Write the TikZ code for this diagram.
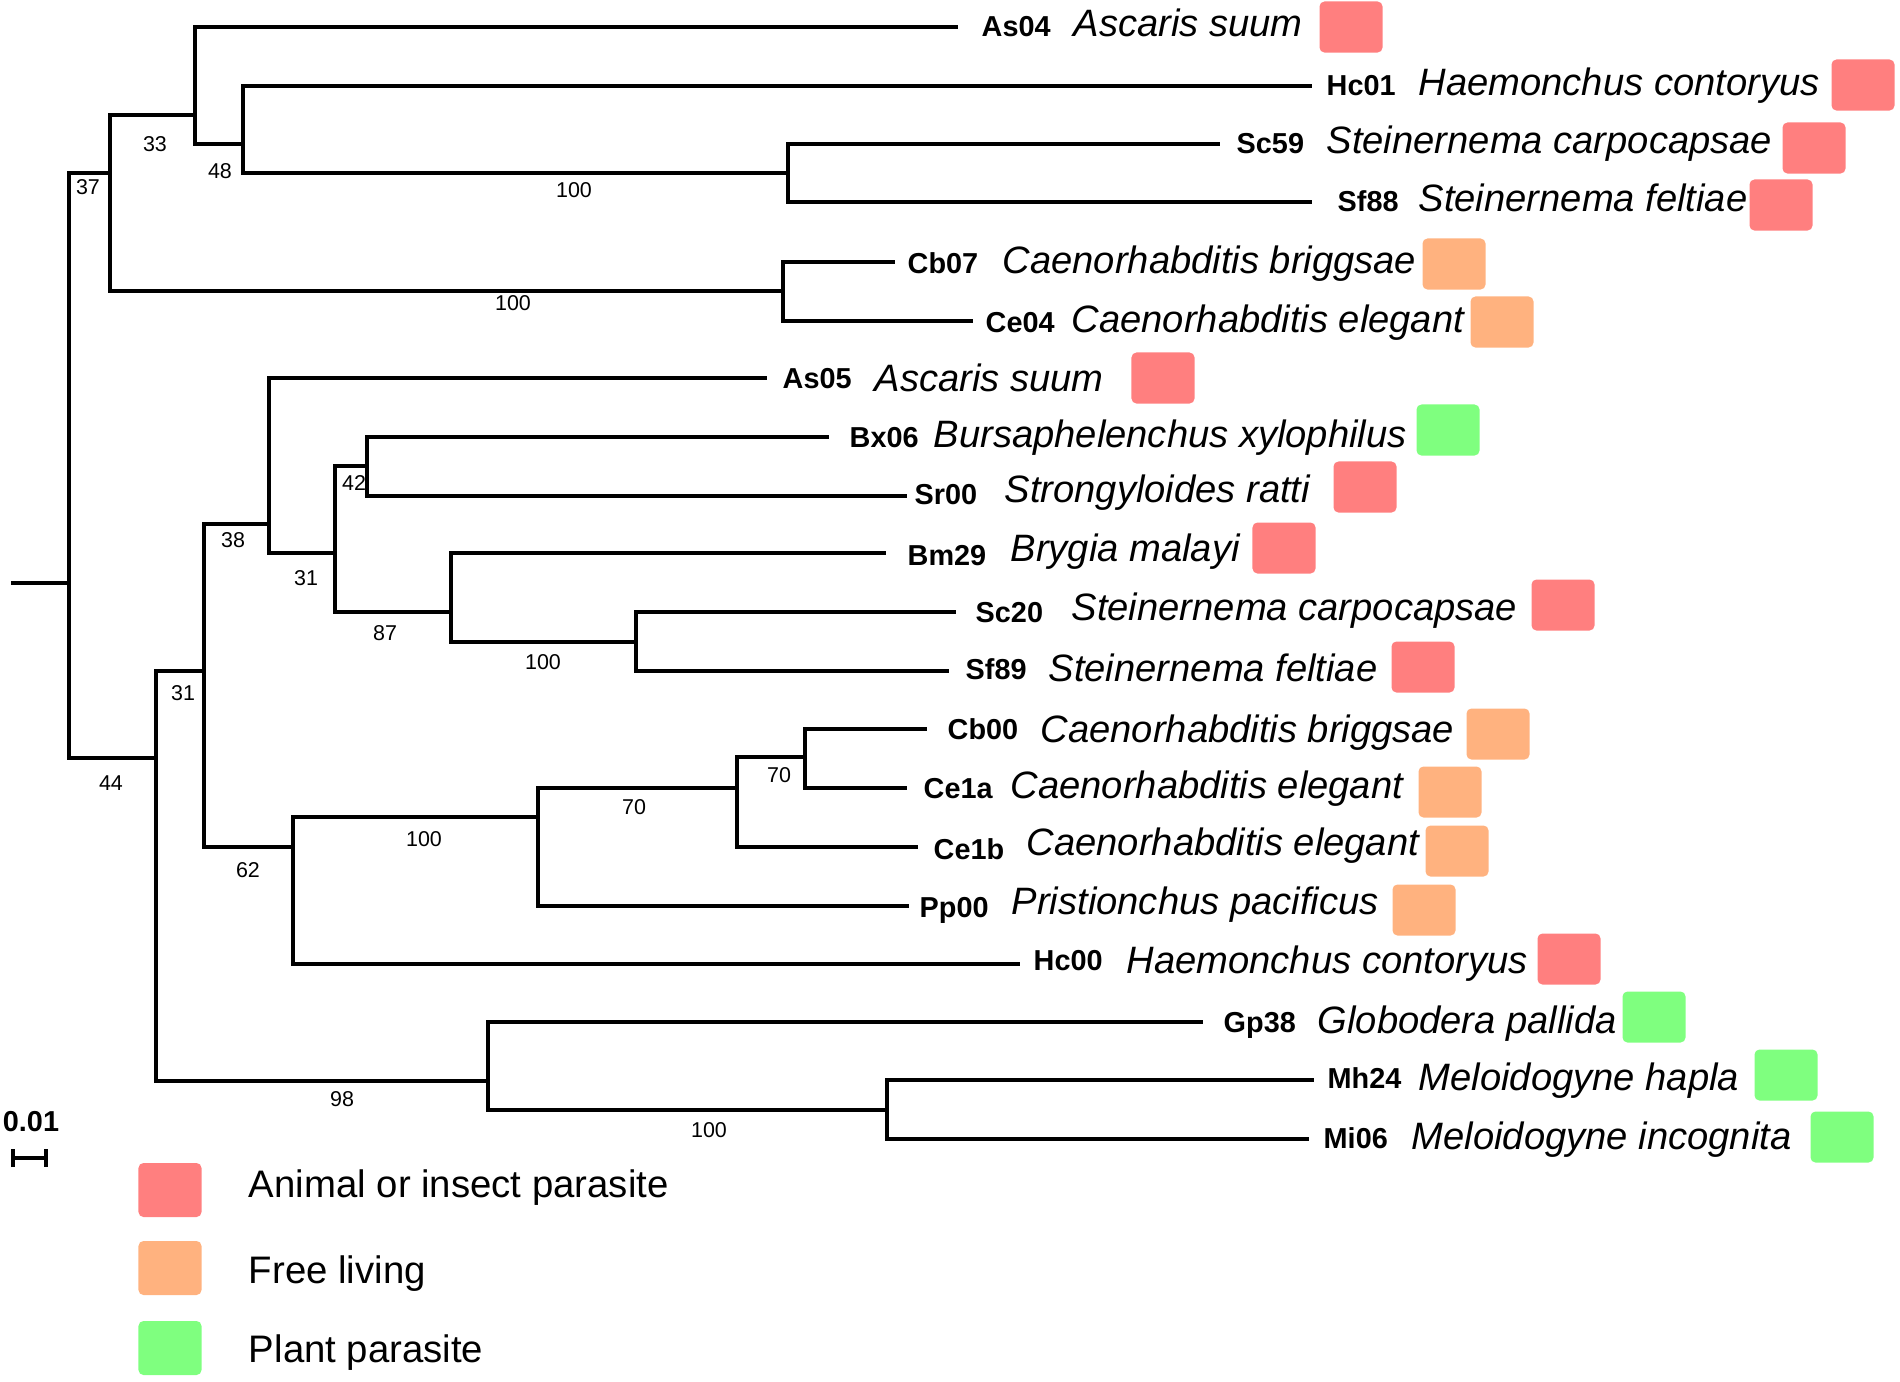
\documentclass[tikz,border=0pt]{standalone}
\usepackage{fontspec}
\setmainfont{Liberation Sans}
\usetikzlibrary{positioning,arrows.meta}
\definecolor{animalred}{RGB}{255,127,127}
\definecolor{freeorange}{RGB}{255,178,127}
\definecolor{plantgreen}{RGB}{127,255,127}
\newcommand{\taxfont}{\fontsize{10.85pt}{12pt}\selectfont\itshape}
\newcommand{\idfont}{\fontsize{8.2pt}{10pt}\selectfont\bfseries}
\newcommand{\bsfont}{\fontsize{6.1pt}{7pt}\selectfont}
\newcommand{\legfont}{\fontsize{10.9pt}{12pt}\selectfont}
\tikzset{
    tree/.style={
        line width=1.15pt
    },
    taxid/.style={
        font=\idfont,
        anchor=base west,
        inner sep=0pt
    },
    taxname/.style={
        font=\taxfont,
        anchor=base west,
        inner sep=0pt
    },
    bootval/.style={
        font=\bsfont,
        inner sep=0pt
    },
    hostbox/.style={
        rectangle,
        rounded corners=0.05cm,
        minimum width=0.63cm,
        minimum height=0.51cm,
        inner sep=0pt
    },
    animal/.style={hostbox, fill=animalred},
    freeliv/.style={hostbox, fill=freeorange},
    plant/.style={hostbox, fill=plantgreen},
    legtext/.style={font=\legfont, inner sep=0pt}
}

\begin{document}
\begin{tikzpicture}[x=0.01cm, y=-0.01cm]
    \useasboundingbox (0,0) rectangle (1900,1381);
    % inner nodes of the tree
    \coordinate (stub) at (11,583);
    \coordinate (r) at (69,583);
    \coordinate (nA) at (110,173);
    \coordinate (nC) at (195,115);
    \coordinate (nE) at (243,144);
    \coordinate (nF) at (788,173);
    \coordinate (nD) at (783,291);
    \coordinate (nB) at (156,758);
    \coordinate (nG) at (204,671);
    \coordinate (nI) at (269,524);
    \coordinate (nK) at (335,553);
    \coordinate (nL) at (367,466);
    \coordinate (nM) at (451,612);
    \coordinate (nN) at (636,642);
    \coordinate (nJ) at (293,847);
    \coordinate (nO) at (538,817);
    \coordinate (nP) at (737,788);
    \coordinate (nQ) at (805,757);
    \coordinate (nH) at (488,1081);
    \coordinate (nR) at (887,1110);

    % leaves
    \coordinate (As04) at (958,27);
    \node (As04c) [taxid] at (981,36) {As04};
    \node (As04s) [taxname] at (1073,36) {Ascaris suum};
    \node (As04b) [animal] at (1351,27) {};

    \coordinate (Hc01) at (1312,86);
    \node (Hc01c) [taxid] at (1326,95) {Hc01};
    \node (Hc01s) [taxname] at (1418,95) {Haemonchus contoryus};
    \node (Hc01b) [animal] at (1863,85) {};

    \coordinate (Sc59) at (1220,144);
    \node (Sc59c) [taxid] at (1236,153) {Sc59};
    \node (Sc59s) [taxname] at (1326,153) {Steinernema carpocapsae};
    \node (Sc59b) [animal] at (1814,148) {};

    \coordinate (Sf88) at (1312,202);
    \node (Sf88c) [taxid] at (1337,211) {Sf88};
    \node (Sf88s) [taxname] at (1418,211) {Steinernema feltiae};
    \node (Sf88b) [animal] at (1781,205) {};

    \coordinate (Cb07) at (895,262);
    \node (Cb07c) [taxid] at (907,273) {Cb07};
    \node (Cb07s) [taxname] at (1002,273) {Caenorhabditis briggsae};
    \node (Cb07b) [freeliv] at (1454,264) {};

    \coordinate (Ce04) at (973,321);
    \node (Ce04c) [taxid] at (985,332) {Ce04};
    \node (Ce04s) [taxname] at (1071,332) {Caenorhabditis elegant};
    \node (Ce04b) [freeliv] at (1502,322) {};

    \coordinate (As05) at (767,378);
    \node (As05c) [taxid] at (782,388) {As05};
    \node (As05s) [taxname] at (874,391) {Ascaris suum};
    \node (As05b) [animal] at (1163,378) {};

    \coordinate (Bx06) at (829,437);
    \node (Bx06c) [taxid] at (849,447) {Bx06};
    \node (Bx06s) [taxname] at (933,447) {Bursaphelenchus xylophilus};
    \node (Bx06b) [plant] at (1448,430) {};

    \coordinate (Sr00) at (907,496);
    \node (Sr00c) [taxid] at (914,504) {Sr00};
    \node (Sr00s) [taxname] at (1004,502) {Strongyloides ratti};
    \node (Sr00b) [animal] at (1365,487) {};

    \coordinate (Bm29) at (886,553);
    \node (Bm29c) [taxid] at (907,565) {Bm29};
    \node (Bm29s) [taxname] at (1010,561) {Brygia malayi};
    \node (Bm29b) [animal] at (1284,548) {};

    \coordinate (Sc20) at (956,612);
    \node (Sc20c) [taxid] at (975,622) {Sc20};
    \node (Sc20s) [taxname] at (1071,620) {Steinernema carpocapsae};
    \node (Sc20b) [animal] at (1563,605) {};

    \coordinate (Sf89) at (949,671);
    \node (Sf89c) [taxid] at (965,679) {Sf89};
    \node (Sf89s) [taxname] at (1048,681) {Steinernema feltiae};
    \node (Sf89b) [animal] at (1423,667) {};

    \coordinate (Cb00) at (927,729);
    \node (Cb00c) [taxid] at (947,739) {Cb00};
    \node (Cb00s) [taxname] at (1040,742) {Caenorhabditis briggsae};
    \node (Cb00b) [freeliv] at (1498,734) {};

    \coordinate (Ce1a) at (907,788);
    \node (Ce1ac) [taxid] at (923,798) {Ce1a};
    \node (Ce1as) [taxname] at (1010,798) {Caenorhabditis elegant};
    \node (Ce1ab) [freeliv] at (1450,792) {};

    \coordinate (Ce1b) at (918,847);
    \node (Ce1bc) [taxid] at (933,859) {Ce1b};
    \node (Ce1bs) [taxname] at (1026,855) {Caenorhabditis elegant};
    \node (Ce1bb) [freeliv] at (1457,851) {};

    \coordinate (Pp00) at (909,906);
    \node (Pp00c) [taxid] at (919,917) {Pp00};
    \node (Pp00s) [taxname] at (1011,914) {Pristionchus pacificus};
    \node (Pp00b) [freeliv] at (1424,910) {};

    \coordinate (Hc00) at (1020,964);
    \node (Hc00c) [taxid] at (1033,970) {Hc00};
    \node (Hc00s) [taxname] at (1126,973) {Haemonchus contoryus};
    \node (Hc00b) [animal] at (1569,959) {};

    \coordinate (Gp38) at (1203,1022);
    \node (Gp38c) [taxid] at (1223,1032) {Gp38};
    \node (Gp38s) [taxname] at (1317,1033) {Globodera pallida};
    \node (Gp38b) [plant] at (1654,1017) {};

    \coordinate (Mh24) at (1314,1080);
    \node (Mh24c) [taxid] at (1327,1088) {Mh24};
    \node (Mh24s) [taxname] at (1418,1090) {Meloidogyne hapla};
    \node (Mh24b) [plant] at (1786,1075) {};

    \coordinate (Mi06) at (1309,1139);
    \node (Mi06c) [taxid] at (1323,1148) {Mi06};
    \node (Mi06s) [taxname] at (1411,1149) {Meloidogyne incognita};
    \node (Mi06b) [plant] at (1842,1137) {};

    % branches
    \draw [tree] (stub) -- (r);
    \draw [tree] (r) |- (nA);
    \draw [tree] (r) |- (nB);
    \draw [tree] (nA) |- (nC);
    \draw [tree] (nA) |- (nD);
    \draw [tree] (nC) |- (As04);
    \draw [tree] (nC) |- (nE);
    \draw [tree] (nE) |- (Hc01);
    \draw [tree] (nE) |- (nF);
    \draw [tree] (nF) |- (Sc59);
    \draw [tree] (nF) |- (Sf88);
    \draw [tree] (nD) |- (Cb07);
    \draw [tree] (nD) |- (Ce04);
    \draw [tree] (nB) |- (nG);
    \draw [tree] (nB) |- (nH);
    \draw [tree] (nG) |- (nI);
    \draw [tree] (nG) |- (nJ);
    \draw [tree] (nI) |- (As05);
    \draw [tree] (nI) |- (nK);
    \draw [tree] (nK) |- (nL);
    \draw [tree] (nK) |- (nM);
    \draw [tree] (nL) |- (Bx06);
    \draw [tree] (nL) |- (Sr00);
    \draw [tree] (nM) |- (Bm29);
    \draw [tree] (nM) |- (nN);
    \draw [tree] (nN) |- (Sc20);
    \draw [tree] (nN) |- (Sf89);
    \draw [tree] (nJ) |- (nO);
    \draw [tree] (nJ) |- (Hc00);
    \draw [tree] (nO) |- (nP);
    \draw [tree] (nO) |- (Pp00);
    \draw [tree] (nP) |- (nQ);
    \draw [tree] (nP) |- (Ce1b);
    \draw [tree] (nQ) |- (Cb00);
    \draw [tree] (nQ) |- (Ce1a);
    \draw [tree] (nH) |- (Gp38);
    \draw [tree] (nH) |- (nR);
    \draw [tree] (nR) |- (Mh24);
    \draw [tree] (nR) |- (Mi06);

    % bootstrap values
    \node (bsA) [bootval] at (88,187) {37};
    \node (bsC) [bootval] at (155,144) {33};
    \node (bsE) [bootval] at (220,171) {48};
    \node (bsF) [bootval] at (574,190) {100};
    \node (bsD) [bootval] at (513,303) {100};
    \node (bsL) [bootval] at (354,483) {42};
    \node (bsI) [bootval] at (233,540) {38};
    \node (bsK) [bootval] at (306,578) {31};
    \node (bsM) [bootval] at (385,633) {87};
    \node (bsN) [bootval] at (543,662) {100};
    \node (bsG) [bootval] at (183,693) {31};
    \node (bsB) [bootval] at (111,783) {44};
    \node (bsQ) [bootval] at (779,775) {70};
    \node (bsP) [bootval] at (634,807) {70};
    \node (bsO) [bootval] at (424,839) {100};
    \node (bsJ) [bootval] at (248,870) {62};
    \node (bsH) [bootval] at (342,1099) {98};
    \node (bsR) [bootval] at (709,1130) {100};

    % scale bar
    \node (scale) [taxid, anchor=center] at (31,1122) {0.01};
    \coordinate (sbl) at (11,1158);
    \coordinate (sbr) at (48,1158);
    \draw [tree, {Bar[width=0.18cm]}-{Bar[width=0.18cm]}] (sbl) -- (sbr);

    % legend
    \node (legA) [animal, minimum height=0.54cm] at (170,1190) {};
    \node (legF) [freeliv, minimum height=0.54cm] at (170,1268) {};
    \node (legP) [plant, minimum height=0.54cm] at (170,1348) {};
    \node (legAt) [legtext, right=0.46cm of legA, yshift=0.02cm] {Animal or insect parasite};
    \node (legFt) [legtext, right=0.46cm of legF, yshift=-0.06cm] {Free living};
    \node (legPt) [legtext, right=0.46cm of legP, yshift=-0.05cm] {Plant parasite};
\end{tikzpicture}
\end{document}
